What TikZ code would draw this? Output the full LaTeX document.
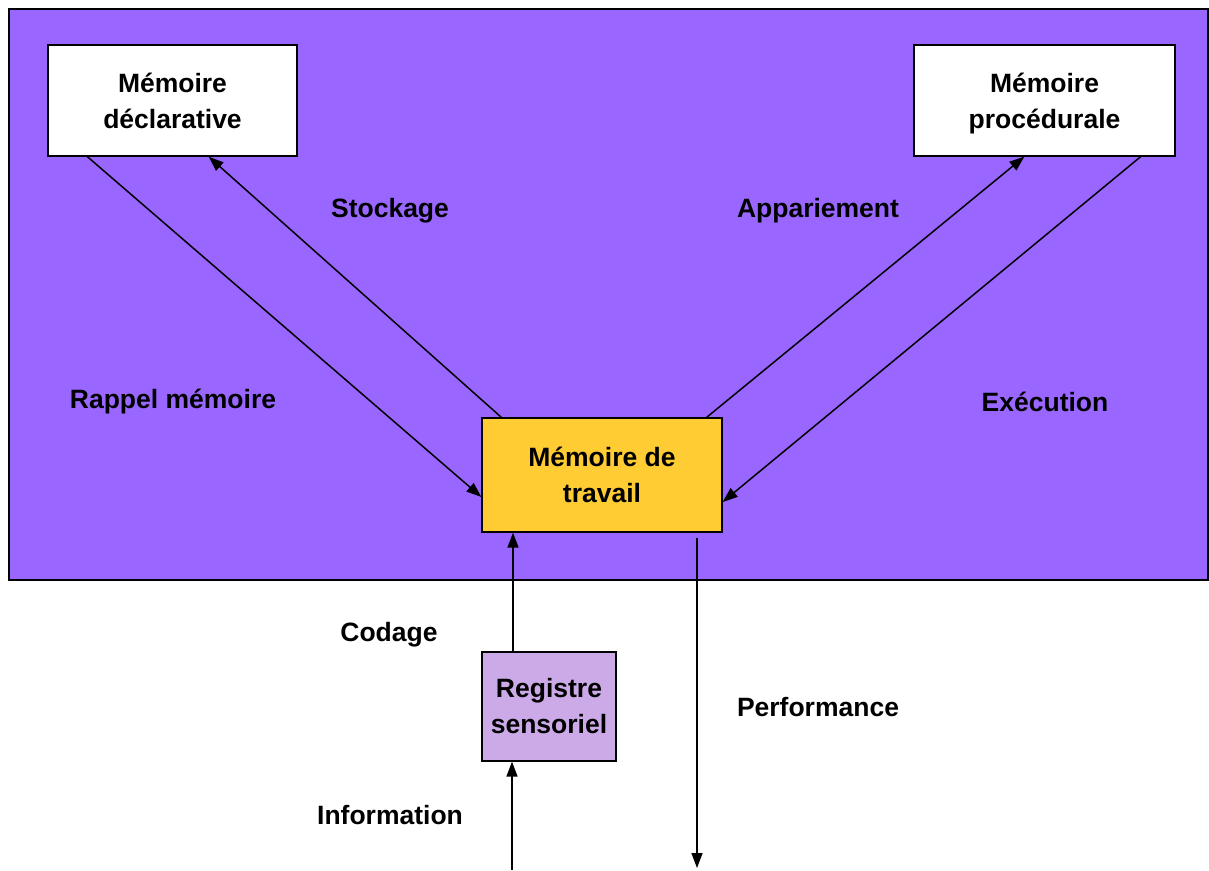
\documentclass[tikz,border=0pt]{standalone}
\usepackage{fontspec}
\setmainfont{Liberation Sans}
\usetikzlibrary{arrows.meta}
\definecolor{bgpurple}{HTML}{9966FF}
\definecolor{wmyellow}{HTML}{FFCC33}
\definecolor{rslav}{HTML}{CCAAE8}
\begin{document}
\begin{tikzpicture}[x=1pt,y=-1pt,
  box/.style={draw=black, line width=1.3pt, inner sep=0pt, align=center,
    font=\fontsize{26.5}{36}\selectfont\bfseries},
  lbl/.style={font=\fontsize{26.5}{30}\selectfont\bfseries, inner sep=0pt},
  conn/.style={line width=1.5pt, -{Triangle[length=15pt,width=11pt]}}]
\useasboundingbox (0,0) rectangle (1209,870);
\fill[white] (0,0) rectangle (1209,870);
\draw[fill=bgpurple, line width=1.3pt] (9,9) rectangle (1208,580);
\node[box, fill=white, minimum width=249pt, minimum height=111pt] (decl) at (172.5,100.5) {Mémoire\\déclarative};
\node[box, fill=white, minimum width=261pt, minimum height=111pt] (proc) at (1044.5,100.5) {Mémoire\\\raisebox{0pt}[\height][0pt]{procédurale}};
\node[box, fill=wmyellow, minimum width=240pt, minimum height=114pt] (wm) at (602,475) {Mémoire de\\travail};
\node[box, fill=rslav, minimum width=134pt, minimum height=109pt] (rs) at (549,706.5) {Registre\\sensoriel};
\coordinate (inS) at (512,870);
\coordinate (codX) at (513,0);
\coordinate (outE) at (697,868);
\draw[conn] ([xshift=40pt]decl.south west) -- (wm.west |- 0,497);
\draw[conn] ([xshift=20pt]wm.north west) -- ([xshift=-89pt]decl.south east);
\draw[conn] ([xshift=-16pt]wm.north east) -- ([xshift=111pt]proc.south west);
\draw[conn] ([xshift=-35pt]proc.south east) -- (wm.east |- 0,502);
\draw[conn] (rs.north -| codX) -- (wm.south -| codX);
\draw[conn] (inS) -- (rs.south -| inS);
\draw[conn] ([yshift=-5pt]wm.south -| outE) -- (outE);
\node[lbl] (stock) at (390,211) {Stockage};
\node[lbl] (appar) at (818,211) {Appariement};
\node[lbl] (rappel) at (173,402) {Rappel mémoire};
\node[lbl] (exec) at (1045,402) {Exécution};
\node[lbl] (cod) at (389,635) {Codage};
\node[lbl] (perf) at (818,707) {Performance};
\node[lbl] (info) at (390,815) {Information};
\end{tikzpicture}
\end{document}
